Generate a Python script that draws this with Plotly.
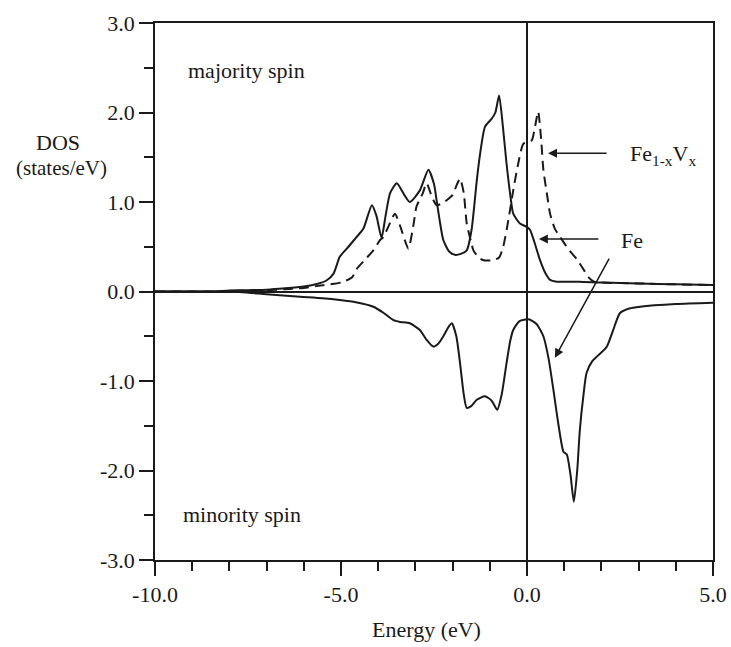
import plotly.graph_objects as go

# Majority spin, pure Fe (solid)
fe_up_E = [-10, -9, -8.5, -8, -7.5, -7, -6.5, -6, -5.6, -5.4, -5.2, -5.03, -4.8, -4.6, -4.4,
           -4.17, -4.05, -3.91, -3.8, -3.68, -3.5, -3.3, -3.15, -2.88, -2.65, -2.5, -2.43,
           -2.35, -2.25, -2.1, -1.94, -1.78, -1.62, -1.49, -1.35, -1.26, -1.13, -0.95, -0.85,
           -0.75, -0.65, -0.55, -0.45, -0.37, -0.19, 0.0, 0.08, 0.2, 0.35, 0.5, 0.62, 0.8,
           1.4, 2.0, 3.0, 4.0, 5.0]
fe_up = [0, 0, 0.0, 0.01, 0.015, 0.02, 0.035, 0.055, 0.09, 0.12, 0.2, 0.39, 0.5, 0.6, 0.7,
         0.965, 0.85, 0.6, 0.85, 1.1, 1.21, 1.08, 1.0, 1.13, 1.36, 1.2, 1.02,
         0.8, 0.575, 0.45, 0.41, 0.42, 0.46, 0.69, 1.24, 1.54, 1.84, 1.93, 2.0,
         2.19, 1.85, 1.43, 1.08, 0.87, 0.76, 0.72, 0.69, 0.55, 0.35, 0.2, 0.13, 0.11,
         0.11, 0.1, 0.09, 0.08, 0.072]

# Majority spin, Fe(1-x)V(x) (dashed)
fev_up_E = [-10, -9, -8.5, -8, -7, -6.5, -6, -5.5, -5.0, -4.7, -4.58, -4.3, -4.13, -3.95,
            -3.86, -3.7, -3.55, -3.4, -3.19, -3.05, -2.97, -2.8, -2.7, -2.55, -2.43, -2.3,
            -2.16, -2.0, -1.88, -1.8, -1.7, -1.62, -1.5, -1.44, -1.3, -1.17, -0.91, -0.75,
            -0.64, -0.5, -0.37, -0.25, -0.1, 0.05, 0.13, 0.22, 0.3, 0.38, 0.44, 0.55, 0.62,
            0.75, 0.89, 1.1, 1.34, 1.5, 1.65, 1.8, 2.0, 3.0, 4.0, 5.0]
fev_up = [0, 0, 0, 0.005, 0.015, 0.025, 0.04, 0.07, 0.1, 0.16, 0.25, 0.38, 0.46, 0.575,
          0.61, 0.75, 0.87, 0.72, 0.48, 0.75, 0.95, 1.1, 1.21, 1.05, 0.965, 0.98,
          1.02, 1.08, 1.2, 1.26, 1.1, 0.76, 0.55, 0.46, 0.38, 0.35, 0.35, 0.38,
          0.5, 0.8, 1.13, 1.4, 1.65, 1.68, 1.69, 1.85, 2.01, 1.7, 1.36, 1.05, 0.87,
          0.7, 0.61, 0.48, 0.36, 0.26, 0.16, 0.11, 0.1, 0.09, 0.08, 0.072]

# Minority spin, Fe (solid, negative)
fe_dn_E = [-10, -9, -8, -7, -6.1, -5.5, -5.03, -4.6, -4.13, -3.85, -3.59, -3.41, -3.15,
           -2.88, -2.7, -2.52, -2.38, -2.25, -2.1, -2.02, -1.9, -1.8, -1.7, -1.62, -1.5,
           -1.35, -1.13, -0.95, -0.8, -0.68, -0.55, -0.45, -0.37, -0.2, 0.04, 0.25, 0.44,
           0.58, 0.71, 0.85, 0.98, 1.07, 1.17, 1.26, 1.35, 1.42, 1.52, 1.6, 1.75, 1.87,
           2.14, 2.3, 2.5, 2.75, 3.04, 4.0, 5.0]
fe_dn = [0, 0, 0, -0.03, -0.058, -0.075, -0.095, -0.12, -0.17, -0.24, -0.32, -0.34, -0.355,
         -0.43, -0.54, -0.615, -0.58, -0.5, -0.39, -0.355, -0.5, -0.8, -1.15, -1.3, -1.28,
         -1.21, -1.17, -1.22, -1.32, -1.15, -0.8, -0.55, -0.43, -0.33, -0.31, -0.36, -0.5,
         -0.75, -1.1, -1.5, -1.79, -1.82, -2.05, -2.35, -2.0, -1.55, -1.15, -0.91, -0.78, -0.73,
         -0.62, -0.45, -0.24, -0.19, -0.17, -0.14, -0.125]

x_tickvals = [-10, -5, 0, 5]
x_ticktext = ["-10.0", "-5.0", "0.0", "5.0"]
y_tickvals = [-3, -2, -1, 0, 1, 2, 3]
y_ticktext = ["-3.0", "-2.0", "-1.0", "0.0", "1.0", "2.0", "3.0"]

FONT = "Liberation Serif, DejaVu Serif, Times New Roman, serif"
INK = "#1a1a1a"

fig = go.Figure()
line_kw = dict(color=INK, width=2, shape="spline", smoothing=0.6)
fig.add_trace(go.Scatter(x=fe_up_E, y=fe_up, mode="lines", line=line_kw, showlegend=False))
fig.add_trace(go.Scatter(x=fev_up_E, y=fev_up, mode="lines",
                         line=dict(line_kw, dash="10px,6px"), showlegend=False))
fig.add_trace(go.Scatter(x=fe_dn_E, y=fe_dn, mode="lines", line=line_kw, showlegend=False))

axis_common = dict(showline=True, linecolor=INK, linewidth=1.5, mirror=True,
                   ticks="outside", ticklen=14, tickwidth=1.5, tickcolor=INK,
                   showgrid=False, zeroline=True, zerolinecolor=INK, zerolinewidth=1.5,
                   automargin=False,
                   tickfont=dict(family=FONT, size=22, color=INK))

fig.update_xaxes(range=[-10, 5], tickvals=x_tickvals, ticktext=x_ticktext,
                 minor=dict(dtick=1, tick0=0, ticks="outside", ticklen=9,
                            tickwidth=1.5, tickcolor=INK, showgrid=False),
                 **axis_common)
fig.update_yaxes(range=[-3, 3], tickvals=y_tickvals, ticktext=y_ticktext,
                 minor=dict(dtick=0.5, tick0=0, ticks="outside", ticklen=9,
                            tickwidth=1.5, tickcolor=INK, showgrid=False),
                 **axis_common)

txt = dict(family=FONT, size=22, color=INK)
ann = [
    dict(x=-7.53, y=2.47, xref="x", yref="y", text="majority spin", showarrow=False, font=txt,
         xanchor="center"),
    dict(x=-7.66, y=-2.49, xref="x", yref="y", text="minority spin", showarrow=False, font=txt,
         xanchor="center"),
    dict(x=-0.174, y=0.778, xref="paper", yref="paper", text="DOS", showarrow=False, font=txt,
         xanchor="center", yanchor="middle"),
    dict(x=-0.167, y=0.7296, xref="paper", yref="paper", text="(states/eV)", showarrow=False,
         font=dict(family=FONT, size=21, color=INK), xanchor="center", yanchor="middle"),
    dict(x=-2.7, y=-0.13, xref="x", yref="paper", text="Energy (eV)", showarrow=False, font=txt,
         xanchor="center", yanchor="middle"),
    dict(x=3.66, y=1.52, xref="x", yref="y", text="Fe<sub>1-x</sub>V<sub>x</sub>",
         showarrow=False, font=txt, xanchor="center"),
    dict(x=2.82, y=0.575, xref="x", yref="y", text="Fe", showarrow=False, font=txt,
         xanchor="center"),
    # arrows
    dict(x=0.565, y=1.545, ax=2.18, ay=1.545, xref="x", yref="y", axref="x", ayref="y",
         text="", showarrow=True, arrowhead=2, arrowsize=1.2, arrowwidth=1.5, arrowcolor=INK),
    dict(x=0.32, y=0.586, ax=1.96, ay=0.586, xref="x", yref="y", axref="x", ayref="y",
         text="", showarrow=True, arrowhead=2, arrowsize=1.2, arrowwidth=1.5, arrowcolor=INK),
    dict(x=0.75, y=-0.74, ax=2.23, ay=0.385, xref="x", yref="y", axref="x", ayref="y",
         text="", showarrow=True, arrowhead=2, arrowsize=1.2, arrowwidth=1.5, arrowcolor=INK),
]
fig.update_layout(
    width=731, height=647,
    margin=dict(l=155, r=18, t=23, b=87),
    paper_bgcolor="white", plot_bgcolor="white",
    annotations=ann,
    font=dict(family=FONT, color=INK),
)
fig.write_html("out.html")
